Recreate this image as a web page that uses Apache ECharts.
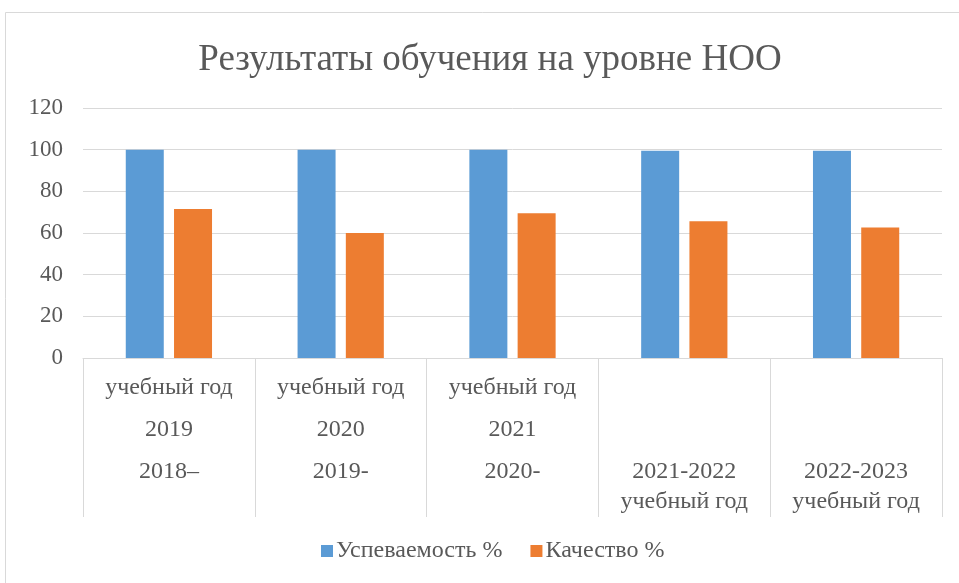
<!DOCTYPE html>
<html>
<head>
<meta charset="utf-8">
<script src="https://cdn.jsdelivr.net/npm/echarts@6/dist/echarts.min.js"></script>
<style>
  html, body { margin: 0; padding: 0; background: #ffffff; }
  #chart { width: 959px; height: 583px; }
</style>
</head>
<body>
<div id="chart"></div>
<script>
// категории (в подписях Excel строки идут в странном порядке — повторяем как есть)
const categories = [
  'учебный год\n2019\n2018–',
  'учебный год\n2020\n2019-',
  'учебный год\n2021\n2020-',
  '\n\n\n2021-2022\nучебный год',
  '\n\n\n2022-2023\nучебный год'
];
const seriesNames = ['Успеваемость %', 'Качество %'];
const progress = [100, 100, 100, 99.5, 99.5];
const quality = [71.5, 60, 69.5, 65.6, 62.7];
const yTicks = { min: 0, max: 120, step: 20 };

const textColor = '#595959';
const lineColor = '#d9d9d9';
const serif = '"Liberation Serif", "DejaVu Serif", serif';

const myChart = echarts.init(document.getElementById('chart'));

// первые три подписи — с большим межстрочным интервалом
const catData = categories.map((c, i) => ({
  value: c,
  textStyle: { lineHeight: i < 3 ? 42 : 30 }
}));

const option = {
  backgroundColor: '#ffffff',
  animation: false,
  title: {
    text: 'Результаты обучения на уровне НОО',
    left: 490,
    textAlign: 'center',
    top: 42,
    padding: 0,
    textStyle: {
      color: textColor,
      fontFamily: serif,
      fontWeight: 'normal',
      fontSize: 37
    }
  },
  legend: {
    data: seriesNames,
    left: 321,
    top: 539,
    padding: 0,
    itemWidth: 12,
    itemHeight: 12,
    itemGap: 28,
    icon: 'rect',
    textStyle: {
      color: textColor,
      fontFamily: serif,
      fontSize: 24,
      padding: [0, 0, 0, -2]
    }
  },
  grid: {
    left: 83,
    right: 17,
    top: 108,
    bottom: 225,
    containLabel: false
  },
  graphic: [
    {
      type: 'rect',
      silent: true,
      shape: { x: 5.5, y: 12.5, width: 970, height: 600 },
      style: { fill: 'none', stroke: lineColor, lineWidth: 1 }
    }
  ],
  xAxis: {
    type: 'category',
    data: catData,
    axisLine: { lineStyle: { color: lineColor, width: 1 } },
    axisTick: {
      show: true,
      interval: 0,
      length: 159,
      lineStyle: { color: lineColor, width: 1 }
    },
    axisLabel: {
      interval: 0,
      margin: 9,
      color: textColor,
      fontFamily: serif,
      fontSize: 24
    }
  },
  yAxis: {
    type: 'value',
    min: yTicks.min,
    max: yTicks.max,
    interval: yTicks.step,
    axisLine: { show: false },
    axisTick: { show: false },
    axisLabel: {
      margin: 20,
      color: textColor,
      fontFamily: serif,
      fontSize: 23
    },
    splitLine: { lineStyle: { color: lineColor, width: 1 } }
  },
  series: [
    {
      name: seriesNames[0],
      type: 'bar',
      data: progress,
      barWidth: 38,
      barGap: '27%',
      itemStyle: { color: '#5b9bd5' }
    },
    {
      name: seriesNames[1],
      type: 'bar',
      data: quality,
      barWidth: 38,
      itemStyle: { color: '#ed7d31' }
    }
  ]
};

myChart.setOption(option);
</script>
</body>
</html>
